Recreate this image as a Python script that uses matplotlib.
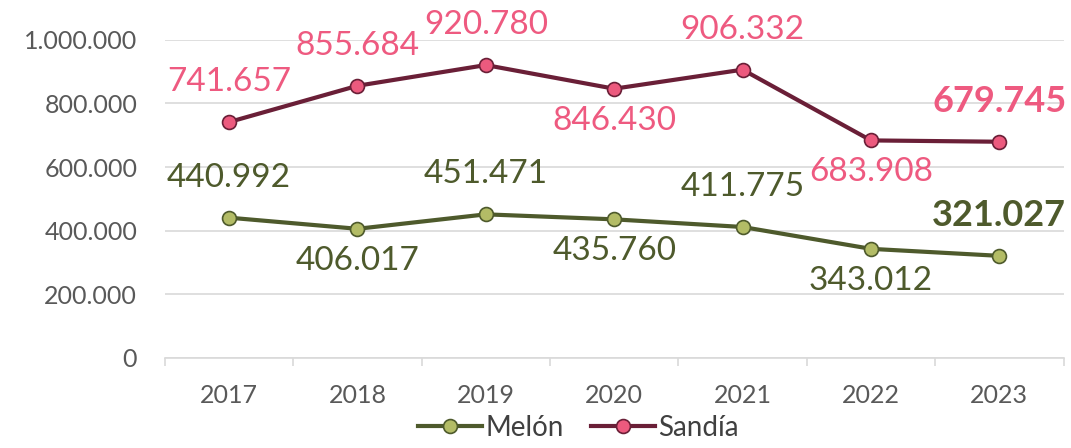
import numpy as np
import matplotlib
matplotlib.use("Agg")
import matplotlib.pyplot as plt
from matplotlib.ticker import FuncFormatter

years = ['2017', '2018', '2019', '2020', '2021', '2022', '2023']
melon = [440992, 406017, 451471, 435760, 411775, 343012, 321027]
sandia = [741657, 855684, 920780, 846430, 906332, 683908, 679745]
# label side for each point: 1 = above, -1 = below
melon_side = [1, -1, 1, -1, 1, -1, 1]
sandia_side = [1, 1, 1, -1, 1, -1, 1]

plt.rcParams['font.family'] = ['Lato', 'DejaVu Sans']

melon_line = '#4E5A2C'
melon_fill = '#B3BC66'
sandia_line = '#6A1F37'
sandia_fill = '#EC5A7E'
melon_txt = '#4E5A2C'
sandia_txt = '#EE5A80'


def fmt(v):
    return f"{v:,.0f}".replace(',', '.')


fig = plt.figure(figsize=(10.71, 4.48), dpi=100)
ax = fig.add_axes([0.154, 0.201, 0.839, 0.710])
x = np.arange(len(years))

ax.plot(x, melon, color=melon_line, lw=3, marker='o', ms=10,
        mfc=melon_fill, mec=melon_line, mew=1.2, label='Melón', zorder=3)
ax.plot(x, sandia, color=sandia_line, lw=3, marker='o', ms=10,
        mfc=sandia_fill, mec=sandia_line, mew=1.2, label='Sandía', zorder=3)

for series, sides, col in [(melon, melon_side, melon_txt), (sandia, sandia_side, sandia_txt)]:
    for i, (v, s) in enumerate(zip(series, sides)):
        last = i == len(series) - 1
        dy = 40 if s > 0 else -32
        ax.annotate(fmt(v), (x[i], v), xytext=(0, dy), textcoords='offset pixels',
                    ha='center', va='center', fontsize=26 if last else 24, color=col,
                    fontweight='bold' if last else 'normal')

ax.set_xlim(-0.5, len(years) - 0.5)
ax.set_ylim(0, 1000000)
ax.set_yticks(np.arange(0, 1000001, 200000))
ax.yaxis.set_major_formatter(FuncFormatter(lambda v, p: fmt(v)))
ax.set_xticks(x)
ax.set_xticklabels(years)
ax.set_xticks(np.arange(-0.5, len(years), 1), minor=True)
ax.tick_params(axis='x', which='major', length=0, pad=19, labelsize=18, labelcolor='#595959')
ax.tick_params(axis='x', which='minor', length=6, color='#D9D9D9', width=1.2)
ax.tick_params(axis='y', length=0, pad=20, labelsize=18, labelcolor='#595959')

ax.grid(axis='y', color='#D9D9D9', lw=1.2)
ax.set_axisbelow(True)
for sp in ['top', 'right', 'left']:
    ax.spines[sp].set_visible(False)
ax.spines['bottom'].set_color('#D9D9D9')
ax.spines['bottom'].set_linewidth(1.2)

fig.legend(loc='lower center', bbox_to_anchor=(0.54, -0.04), ncol=2, frameon=False,
           fontsize=20, handlelength=2.3, columnspacing=1.0, handletextpad=0.1,
           labelcolor='#404040')

fig.savefig('out.png', dpi=100)
